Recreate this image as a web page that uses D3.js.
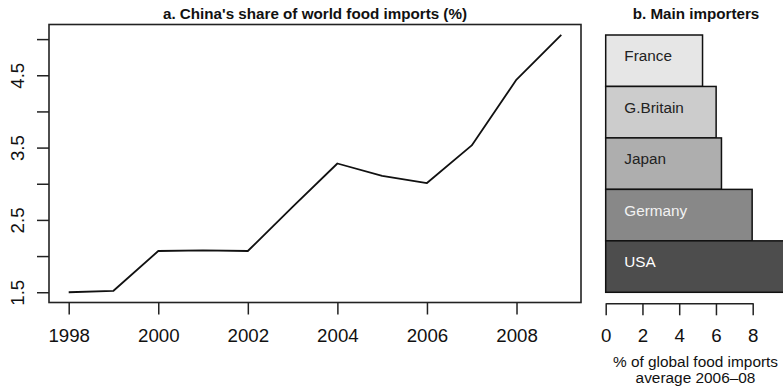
<!DOCTYPE html>
<html>
<head>
<meta charset="utf-8">
<script src="https://cdn.jsdelivr.net/npm/d3@7"></script>
<style>
  html, body { margin: 0; padding: 0; background: #fff; }
  svg { display: block; font-family: "Liberation Sans", Arial, Helvetica, sans-serif; }
</style>
</head>
<body>
<svg id="chart" width="783" height="387"></svg>
<script>
// China's share of world food imports, 1998-2009 (%)
const years = [1998, 1999, 2000, 2001, 2002, 2003, 2004, 2005, 2006, 2007, 2008, 2009];
const chinaShare = [1.50, 1.52, 2.07, 2.08, 2.07, 2.68, 3.28, 3.11, 3.01, 3.53, 4.44, 5.06];
const yTicks = [1.5, 2.0, 2.5, 3.0, 3.5, 4.0, 4.5, 5.0];
const yTickLabels = ["1.5", "", "2.5", "", "3.5", "", "4.5", ""];
const xTicks = [1998, 2000, 2002, 2004, 2006, 2008];

// Main importers, % of global food imports, average 2006-08 (top to bottom)
const importers = ["France", "G.Britain", "Japan", "Germany", "USA"];
const importShare = [5.27, 6.01, 6.30, 7.97, 10.2];
const importerFill = ["#E6E6E6", "#CCCCCC", "#AEAEAE", "#888888", "#4D4D4D"];
const importerText = ["#222", "#222", "#222", "#f2f2f2", "#ffffff"];
const barTicks = [0, 2, 4, 6, 8];

const svg = d3.select("#chart");

// ---- Panel a: line chart ----
const pa = { left: 49, right: 581, top: 24.5, bottom: 302.5 };
const x = d3.scaleLinear().domain([1997.56, 2009.44]).range([pa.left, pa.right]);
const y = d3.scaleLinear().domain([1.358, 5.202]).range([pa.bottom, pa.top]);

const gA = svg.append("g");

gA.append("text")
  .attr("x", (pa.left + pa.right) / 2).attr("y", 18.5)
  .attr("text-anchor", "middle")
  .attr("font-weight", "bold").attr("font-size", 15.2)
  .attr("fill", "#111")
  .text("a. China's share of world food imports (%)");

gA.append("rect")
  .attr("x", pa.left).attr("y", pa.top)
  .attr("width", pa.right - pa.left).attr("height", pa.bottom - pa.top)
  .attr("fill", "none").attr("stroke", "#222").attr("stroke-width", 1.6);

const line = d3.line().x((d, i) => x(years[i])).y(d => y(d));
gA.append("path")
  .datum(chinaShare)
  .attr("d", line)
  .attr("fill", "none").attr("stroke", "#111").attr("stroke-width", 1.8)
  .attr("stroke-linejoin", "round");

// x axis
const xAxis = d3.axisBottom(x).tickValues(xTicks).tickFormat(d3.format("d"))
  .tickSize(12).tickPadding(14);
const gx = gA.append("g").attr("transform", `translate(0,${pa.bottom})`).call(xAxis);
gx.select(".domain").remove();
gx.selectAll(".tick line").attr("stroke", "#222").attr("stroke-width", 1.5);
gx.selectAll(".tick text").attr("font-size", 18.7).attr("fill", "#111")
  .attr("font-family", "Liberation Sans, Arial, sans-serif");

// y axis (labels rotated, R style)
const yAxis = d3.axisLeft(y).tickValues(yTicks).tickFormat((d, i) => yTickLabels[i])
  .tickSize(12).tickPadding(0);
const gy = gA.append("g").attr("transform", `translate(${pa.left},0)`).call(yAxis);
gy.select(".domain").remove();
gy.selectAll(".tick line").attr("stroke", "#222").attr("stroke-width", 1.5);
gy.selectAll(".tick text")
  .attr("x", null).attr("dy", null)
  .attr("text-anchor", "middle")
  .attr("transform", `translate(${23.5 - pa.left},0) rotate(-90)`)
  .attr("font-size", 18.7).attr("fill", "#111")
  .attr("font-family", "Liberation Sans, Arial, sans-serif");

// ---- Panel b: stacked horizontal bars ----
const pb = { left: 605.7, top: 35, bottom: 292.3, axisY: 303.3 };
const xb = d3.scaleLinear().domain([0, 8]).range([pb.left, 752.7]);
const yb = d3.scaleBand().domain(importers).range([pb.top, pb.bottom]).padding(0);

const gB = svg.append("g");

gB.append("text")
  .attr("x", 696).attr("y", 18.5)
  .attr("text-anchor", "middle")
  .attr("font-weight", "bold").attr("font-size", 15.2)
  .attr("fill", "#111")
  .text("b. Main importers");

gB.selectAll("rect.bar")
  .data(importers)
  .join("rect")
  .attr("class", "bar")
  .attr("x", xb(0))
  .attr("y", d => yb(d))
  .attr("width", (d, i) => xb(importShare[i]) - xb(0))
  .attr("height", yb.bandwidth())
  .attr("fill", (d, i) => importerFill[i])
  .attr("stroke", "#111").attr("stroke-width", 1.5);

gB.selectAll("text.lab")
  .data(importers)
  .join("text")
  .attr("class", "lab")
  .attr("x", 624.3)
  .attr("y", d => yb(d) + yb.bandwidth() / 2 + 0.5)
  .attr("font-size", 15.3)
  .attr("fill", (d, i) => importerText[i])
  .text(d => d);

const xbAxis = d3.axisBottom(xb).tickValues(barTicks).tickFormat(d3.format("d"))
  .tickSize(12).tickSizeOuter(0).tickPadding(13);
const gxb = gB.append("g").attr("transform", `translate(0,${pb.axisY})`).call(xbAxis);
gxb.select(".domain").attr("stroke", "#222").attr("stroke-width", 1.5);
gxb.selectAll(".tick line").attr("stroke", "#222").attr("stroke-width", 1.5);
gxb.selectAll(".tick text").attr("font-size", 18.7).attr("fill", "#111")
  .attr("font-family", "Liberation Sans, Arial, sans-serif");

gB.append("text")
  .attr("x", 695.5).attr("y", 367)
  .attr("text-anchor", "middle").attr("font-size", 15.4).attr("fill", "#111")
  .text("% of global food imports");
gB.append("text")
  .attr("x", 695.5).attr("y", 383)
  .attr("text-anchor", "middle").attr("font-size", 15.4).attr("fill", "#111")
  .text("average 2006\u201308");
</script>
</body>
</html>
